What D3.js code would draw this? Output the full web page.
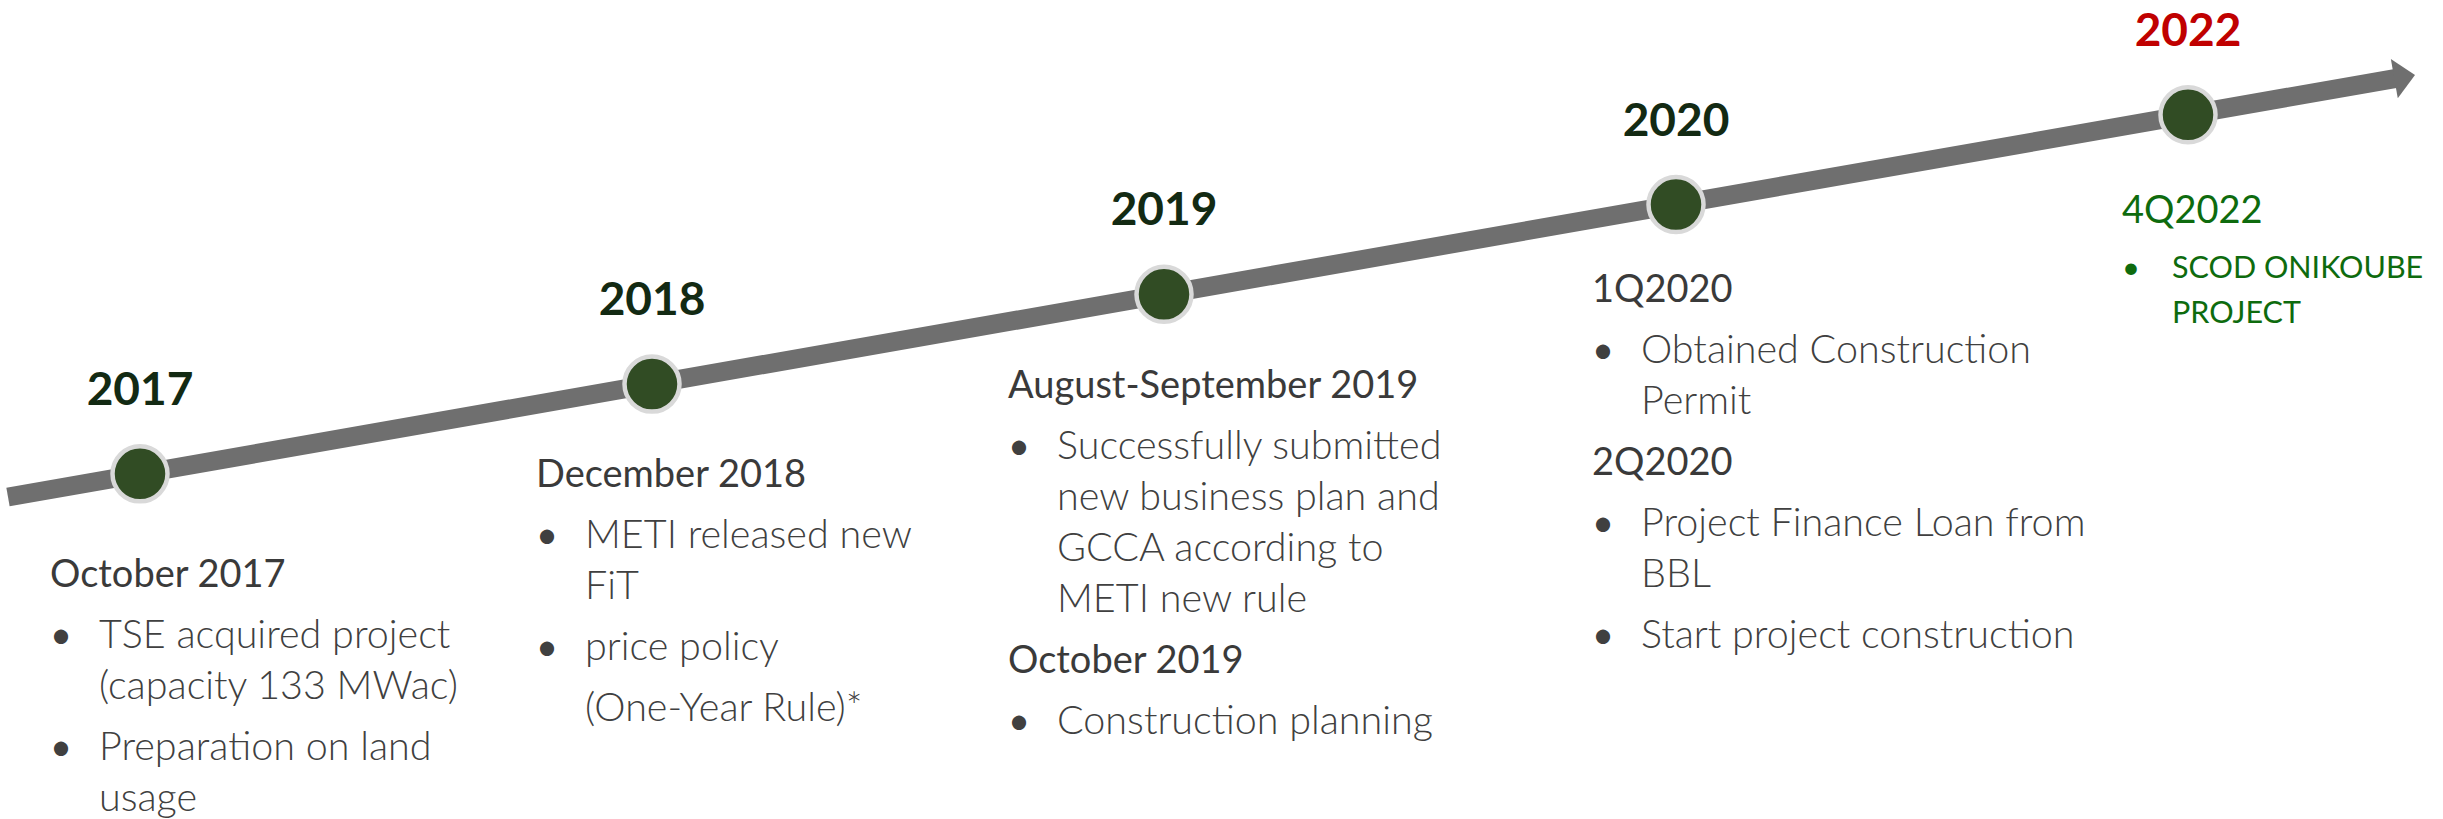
<!DOCTYPE html>
<html>
<head>
<meta charset="utf-8">
<script src="https://cdn.jsdelivr.net/npm/d3@7"></script>
<style>
  html, body { margin: 0; padding: 0; background: #ffffff; }
  svg { display: block; }
</style>
</head>
<body>
<svg id="chart" width="2443" height="819"></svg>
<script>
// ---------------- DATA ----------------
const years = ["2017", "2018", "2019", "2020", "2022"];

// h = period heading, b = bullet, w = wrapped bullet line, c = continuation paragraph
const notes2017 = [
  ["h", "October 2017"],
  ["b", "TSE acquired project"],
  ["w", "(capacity 133 MWac)"],
  ["b", "Preparation on land"],
  ["w", "usage"]
];
const notes2018 = [
  ["h", "December 2018"],
  ["b", "METI released new"],
  ["w", "FiT"],
  ["b", "price policy"],
  ["c", "(One-Year Rule)*"]
];
const notes2019 = [
  ["h", "August-September 2019"],
  ["b", "Successfully submitted"],
  ["w", "new business plan and"],
  ["w", "GCCA according to"],
  ["w", "METI new rule"],
  ["h", "October 2019"],
  ["b", "Construction planning"]
];
const notes2020 = [
  ["h", "1Q2020"],
  ["b", "Obtained Construction"],
  ["w", "Permit"],
  ["h", "2Q2020"],
  ["b", "Project Finance Loan from"],
  ["w", "BBL"],
  ["b", "Start project construction"]
];
const notes2022 = [
  ["h", "4Q2022"],
  ["b", "SCOD ONIKOUBE"],
  ["w", "PROJECT"]
];
const notes = [notes2017, notes2018, notes2019, notes2020, notes2022];

// ---------------- LAYOUT / STYLE ----------------
const W = 2443, H = 819;
const svg = d3.select("#chart");
const FONT = "Lato, 'Open Sans', 'DejaVu Sans', sans-serif";

const x = d3.scalePoint().domain(years).range([140, 2188]).padding(0);

const lineStart = [8, 497];
const lineTip = [2415, 75];
const slope = (lineTip[1] - lineStart[1]) / (lineTip[0] - lineStart[0]);
const yOf = xx => lineStart[1] + slope * (xx - lineStart[0]);

// timeline arrow
const len = Math.hypot(lineTip[0] - lineStart[0], lineTip[1] - lineStart[1]);
const ux = (lineTip[0] - lineStart[0]) / len, uy = (lineTip[1] - lineStart[1]) / len;
const nx = -uy, ny = ux;
const headLen = 21, headHalf = 20;
const base = [lineTip[0] - headLen * ux, lineTip[1] - headLen * uy];

svg.append("path")
  .attr("d", d3.line()([lineStart, [base[0] + 2 * ux, base[1] + 2 * uy]]))
  .attr("stroke", "#6f6f6f")
  .attr("stroke-width", 19)
  .attr("fill", "none");

svg.append("path")
  .attr("d", d3.line()([
    [base[0] + headHalf * nx, base[1] + headHalf * ny],
    lineTip,
    [base[0] - headHalf * nx, base[1] - headHalf * ny]
  ]) + "Z")
  .attr("fill", "#6f6f6f");

// milestones
const ms = svg.append("g").selectAll("g.ms")
  .data(years)
  .join("g")
  .attr("class", "ms")
  .attr("transform", d => `translate(${x(d)},${yOf(x(d))})`);

ms.append("circle")
  .attr("r", 27.5)
  .attr("fill", "#314c24")
  .attr("stroke", "#d9d9d9")
  .attr("stroke-width", 4.5);

ms.append("text")
  .attr("x", 0)
  .attr("y", -69)
  .attr("text-anchor", "middle")
  .attr("font-family", FONT)
  .attr("font-weight", 700)
  .attr("font-size", 46)
  .attr("fill", (d, i) => i === years.length - 1 ? "#c00000" : "#132a13")
  .text(d => d);

// note blocks (offsets relative to each milestone)
const blockDx = [-90, -116, -156, -84, -66];
const blockDy = [113, 103, 104, 97, 108];

notes.forEach((lines, i) => {
  const last = i === notes.length - 1;
  const cx = x(years[i]), cy = yOf(cx);
  const x0 = cx + blockDx[i];
  let y = cy + blockDy[i];
  const g = svg.append("g").attr("transform", `translate(${x0},0)`);
  const bodySize = last ? 30.5 : 39.5;
  const headSize = 38;
  const wrapGap = last ? 45 : 51;
  const paraGap = last ? 55 : 61;
  const bodyColor = last ? "#0e6b0e" : "#404040";
  const headColor = last ? "#0e6b0e" : "#3a3a3a";
  const bodyWeight = last ? 400 : 300;
  const indent = last ? 50 : 49;
  lines.forEach((ln, j) => {
    const [k, t] = ln;
    if (j > 0) y += (k === "w") ? wrapGap : paraGap;
    if (k === "h") {
      g.append("text")
        .attr("x", 0).attr("y", y)
        .attr("font-family", FONT)
        .attr("font-size", headSize)
        .attr("font-weight", 400)
        .attr("fill", headColor)
        .text(t);
    } else {
      if (k === "b") {
        g.append("text")
          .attr("x", 0).attr("y", y)
          .attr("font-family", FONT)
          .attr("font-size", last ? 31 : 38)
          .attr("fill", bodyColor)
          .text("\u2022");
      }
      g.append("text")
        .attr("x", indent).attr("y", y)
        .attr("font-family", FONT)
        .attr("font-size", bodySize)
        .attr("font-weight", bodyWeight)
        .attr("fill", bodyColor)
        .text(t);
    }
  });
});
</script>
</body>
</html>
